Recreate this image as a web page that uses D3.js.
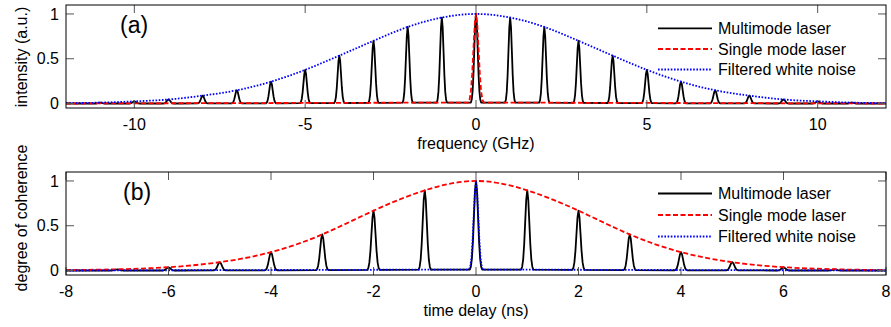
<!DOCTYPE html>
<html><head><meta charset="utf-8">
<script src="https://cdn.jsdelivr.net/npm/d3@7"></script>
<style>
body{margin:0;background:#fff}
svg{display:block}
text{font-family:"Liberation Sans",Arial,Helvetica,sans-serif;fill:#000}
</style>
</head><body>
<svg id="chart" width="891" height="327"></svg>
<script>
// ---------------- DATA ----------------
// Panel (a): spectra vs frequency (GHz)
const modeFreqA = [-11,-10,-9,-8,-7,-6,-5,-4,-3,-2,-1,0,1,2,3,4,5,6,7,8,9,10,11];
const multimodeA = [0.01,0.024,0.045,0.088,0.148,0.244,0.376,0.535,0.70,0.855,0.96,1.0,0.96,0.855,0.70,0.535,0.376,0.244,0.148,0.088,0.045,0.024,0.01];
const singleFreqA = [0];
const singleA = [1.0];
const noiseFreqA = [-12,-11,-10,-9,-8,-7,-6,-5,-4,-3,-2,-1,0,1,2,3,4,5,6,7,8,9,10,11,12];
const noiseA = [0.004,0.01,0.024,0.045,0.088,0.148,0.244,0.376,0.535,0.70,0.855,0.96,1.0,0.96,0.855,0.70,0.535,0.376,0.244,0.148,0.088,0.045,0.024,0.01,0.004];
const xTicksA = [-10,-5,0,5,10];
const xTickLabelsA = ["-10","-5","0","5","10"];

// Panel (b): degree of coherence vs time delay (ns)
const delayB = [-7,-6,-5,-4,-3,-2,-1,0,1,2,3,4,5,6,7];
const multimodeB = [0.012,0.035,0.093,0.205,0.403,0.668,0.895,1.0,0.895,0.668,0.403,0.205,0.093,0.035,0.012];
const singleDelayB = [-8,-7,-6,-5,-4,-3,-2,-1,0,1,2,3,4,5,6,7,8];
const singleB = [0.004,0.014,0.037,0.093,0.205,0.403,0.668,0.895,1.0,0.895,0.668,0.403,0.205,0.093,0.037,0.014,0.004];
const noiseDelayB = [0];
const noiseB = [1.0];
const xTicksB = [-8,-6,-4,-2,0,2,4,6,8];
const xTickLabelsB = ["-8","-6","-4","-2","0","2","4","6","8"];

const yTicks = [0,0.5,1];
const yTickLabels = ["0","0.5","1"];
const seriesNames = ["Multimode laser","Single mode laser","Filtered white noise"];

// narrow peak line shape (relative height at multiples of the peak width)
const profileK = [-3,-2.5,-2,-1.5,-1,-0.5,0,0.5,1,1.5,2,2.5,3];
const profileV = [0.011,0.044,0.135,0.325,0.607,0.882,1,0.882,0.607,0.325,0.135,0.044,0.011];

// ---------------- DRAW ----------------
const svg = d3.select("#chart");
const X0 = 66, X1 = 886;
const styles = [
  {stroke:"#000", dash:null},
  {stroke:"#ff0000", dash:"5,2.5"},
  {stroke:"#0000ff", dash:"1.6,1.6"}
];

function peakSeries(centers, heights, width, xmin, xmax){
  const pts = [[xmin,0]];
  centers.forEach((c,i)=>{
    profileK.forEach((k,j)=>pts.push([c+k*width, heights[i]*profileV[j]]));
  });
  pts.push([xmax,0]);
  return pts;
}

function panel(cfg){
  const g = svg.append("g");
  const x = d3.scaleLinear().domain(cfg.xdom).range([X0,X1]);
  const y = d3.scaleLinear().domain([-0.05,1.1]).range([cfg.bottom,cfg.top]);
  const clipId = "clip"+cfg.id;
  svg.append("clipPath").attr("id",clipId).append("rect")
    .attr("x",X0).attr("y",cfg.top).attr("width",X1-X0).attr("height",cfg.bottom-cfg.top);

  const plot = g.append("g").attr("clip-path",`url(#${clipId})`);
  cfg.series.forEach((s,i)=>{
    const line = d3.line().x(d=>x(d[0])).y(d=>y(d[1])).curve(s.smooth ? d3.curveNatural : d3.curveLinear);
    plot.append("path").datum(s.pts).attr("d",line)
      .attr("fill","none").attr("stroke",styles[i].stroke).attr("stroke-width",1.8)
      .attr("stroke-dasharray",styles[i].dash).attr("stroke-linejoin","round");
  });

  // ticks (inward, all sides)
  const tk = g.append("g").attr("stroke","#555").attr("stroke-width",1);
  cfg.xticks.forEach(t=>{
    tk.append("line").attr("x1",x(t)).attr("x2",x(t)).attr("y1",cfg.bottom).attr("y2",cfg.bottom-8);
    tk.append("line").attr("x1",x(t)).attr("x2",x(t)).attr("y1",cfg.top).attr("y2",cfg.top+8);
  });
  yTicks.forEach(t=>{
    tk.append("line").attr("x1",X0).attr("x2",X0+8).attr("y1",y(t)).attr("y2",y(t));
    tk.append("line").attr("x1",X1).attr("x2",X1-8).attr("y1",y(t)).attr("y2",y(t));
  });
  g.append("rect").attr("x",X0).attr("y",cfg.top).attr("width",X1-X0).attr("height",cfg.bottom-cfg.top)
    .attr("fill","none").attr("stroke","#000").attr("stroke-width",1);

  // tick labels
  cfg.xticks.forEach((t,i)=>{
    g.append("text").attr("x",x(t)).attr("y",cfg.bottom+21.5).attr("text-anchor","middle")
      .attr("font-size",16).text(cfg.xlabels[i]);
  });
  yTicks.forEach((t,i)=>{
    g.append("text").attr("x",X0-7).attr("y",y(t)).attr("dy","0.36em").attr("text-anchor","end")
      .attr("font-size",16).text(yTickLabels[i]);
  });
  // axis titles
  g.append("text").attr("x",(X0+X1)/2).attr("y",cfg.bottom+41).attr("text-anchor","middle")
    .attr("font-size",16).text(cfg.xtitle);
  g.append("text").attr("transform",`translate(27,${cfg.ytitleY}) rotate(-90)`)
    .attr("text-anchor","middle").attr("font-size",16).text(cfg.ytitle);
  // panel tag
  g.append("text").attr("x",cfg.tagX).attr("y",cfg.tagY).attr("font-size",23).text(cfg.tag);

  // legend
  cfg.legendY.forEach((ly,i)=>{
    g.append("line").attr("x1",658).attr("x2",712).attr("y1",ly).attr("y2",ly)
      .attr("stroke",styles[i].stroke).attr("stroke-width",1.8).attr("stroke-dasharray",styles[i].dash);
    g.append("text").attr("x",718).attr("y",ly).attr("dy","0.36em").attr("font-size",16).text(seriesNames[i]);
  });
}

panel({
  id:"a", xdom:[-12,12], top:5, bottom:108,
  xticks:xTicksA, xlabels:xTickLabelsA,
  xtitle:"frequency (GHz)", ytitle:"intensity (a.u.)", ytitleY:57,
  tag:"(a)", tagX:120, tagY:32.5,
  legendY:[28.3,49,69.5],
  series:[
    {pts:peakSeries(modeFreqA, multimodeA, 0.05, -12, 12)},
    {pts:peakSeries(singleFreqA, singleA, 0.075, -12, 12)},
    {pts:noiseFreqA.map((f,i)=>[f,noiseA[i]]), smooth:true}
  ]
});

panel({
  id:"b", xdom:[-8,8], top:172, bottom:275,
  xticks:xTicksB, xlabels:xTickLabelsB,
  xtitle:"time delay (ns)", ytitle:"degree of coherence", ytitleY:218,
  tag:"(b)", tagX:123, tagY:199.5,
  legendY:[193.5,215,236.5],
  series:[
    {pts:peakSeries(delayB, multimodeB, 0.04, -8, 8)},
    {pts:singleDelayB.map((t,i)=>[t,singleB[i]]), smooth:true},
    {pts:peakSeries(noiseDelayB, noiseB, 0.045, -8, 8)}
  ]
});
</script>
</body></html>
